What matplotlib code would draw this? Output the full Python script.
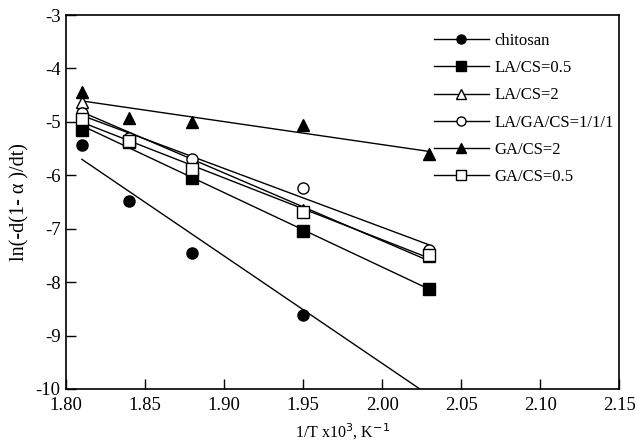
import numpy as np
import matplotlib
matplotlib.use("Agg")
import matplotlib.pyplot as plt

plt.rcParams['font.family'] = ['Liberation Serif', 'DejaVu Serif']
plt.rcParams['font.size'] = 12
plt.rcParams['axes.unicode_minus'] = False

# 1/T x10^3 (K^-1)
temps = [1.81, 1.84, 1.88, 1.95, 2.03]

# ln(-d(1-a)/dt) per sample
chitosan = [-5.43, -6.48, -7.46, -8.62]
la_cs_05 = [-5.15, -5.38, -6.05, -7.05, -8.13]
la_cs_2 = [-4.62, -5.32, -5.80, -6.65, -7.52]
la_ga_cs = [-4.84, -5.30, -5.70, -6.23, -7.40]
ga_cs_2 = [-4.44, -4.92, -5.01, -5.05, -5.60]
ga_cs_05 = [-4.95, -5.35, -5.88, -6.68, -7.50]

labels = ['chitosan', 'LA/CS=0.5', 'LA/CS=2', 'LA/GA/CS=1/1/1', 'GA/CS=2', 'GA/CS=0.5']
series = [chitosan, la_cs_05, la_cs_2, la_ga_cs, ga_cs_2, ga_cs_05]
markers = ['o', 's', '^', 'o', '^', 's']
filled = [True, True, False, False, True, False]

# chitosan fit (slope, intercept) as drawn; 2.03 point lies off scale
chitosan_fit = [-20.1, 30.68]

fig = plt.figure(figsize=(6.35, 4.42), dpi=100)
ax = fig.add_axes([0.104, 0.120, 0.871, 0.846])

for i in range(len(series)):
    y = np.array(series[i])
    x = np.array(temps[:len(y)])
    if i == 0:
        k, b = chitosan_fit
    else:
        k, b = np.polyfit(x, y, 1)
    xs = np.array([temps[0], temps[-1]])
    ax.plot(xs, k * xs + b, color='black', lw=1.0, zorder=2)
    face = 'black' if filled[i] else 'white'
    ax.plot(x, y, linestyle='none', marker=markers[i], markersize=8,
            markerfacecolor=face, markeredgecolor='black', markeredgewidth=1.0,
            zorder=3)
    # legend proxy: line with marker in the middle
    ax.plot([], [], color='black', lw=1.0, marker=markers[i], markersize=6.5,
            markerfacecolor=face, markeredgecolor='black', label=labels[i])

ax.set_xlim(1.80, 2.15)
ax.set_ylim(-10, -3)
ax.set_xticks(np.arange(1.80, 2.151, 0.05))
ax.set_xticklabels(['%.2f' % t for t in np.arange(1.80, 2.151, 0.05)])
ax.set_yticks(range(-10, -2))
ax.tick_params(direction='in', length=7, width=1.0, top=False, right=False,
               labelsize=13.5, pad=4)
ax.tick_params(axis='x', pad=5.5)
for s in ax.spines.values():
    s.set_linewidth(1.2)

ax.set_xlabel('1/T x10$^3$, K$^{-1}$', fontsize=11.5, labelpad=6)
ax.set_ylabel('ln(-d(1- α )/dt)', fontsize=14.5, labelpad=4)

ax.legend(loc='upper right', frameon=False, handlelength=3.3, labelspacing=0.67,
          handletextpad=0.35, fontsize=12, borderaxespad=0.0, borderpad=0.3,
          bbox_to_anchor=(1.0, 0.965))

fig.savefig('out.png', dpi=100)
